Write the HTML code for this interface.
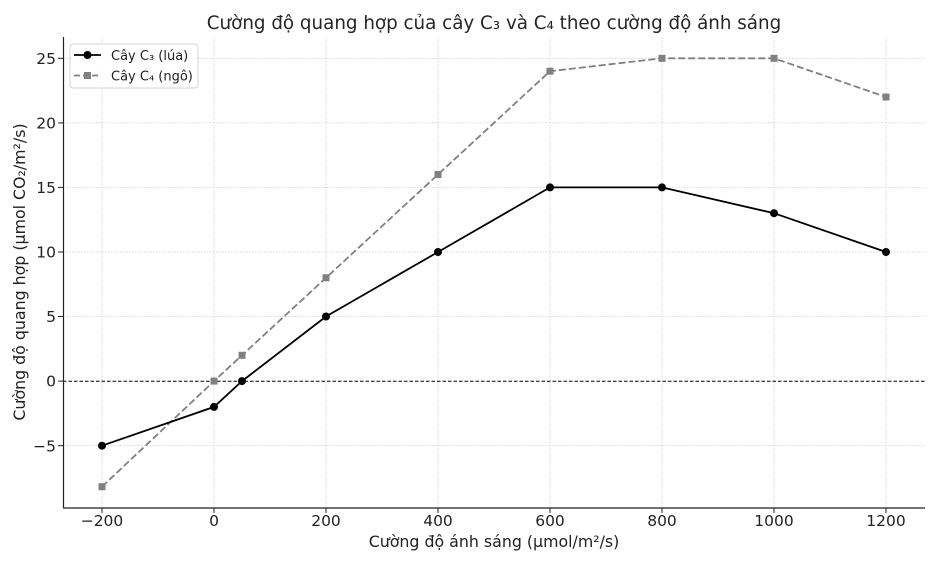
<!DOCTYPE html>
<html><head><meta charset="utf-8"><style>
html,body{margin:0;padding:0;background:#fff;}
svg{display:block;font-family:"DejaVu Sans","Liberation Sans",sans-serif;}
</style></head><body>
<svg width="939" height="564" viewBox="0 0 939 564" xmlns="http://www.w3.org/2000/svg">
<rect width="939" height="564" fill="#fff"/>
<!-- grid -->
<g stroke="#cfcfcf" stroke-width="0.8" stroke-dasharray="1.5,1.5">
<line x1="102" y1="37" x2="102" y2="508"/>
<line x1="214" y1="37" x2="214" y2="508"/>
<line x1="326" y1="37" x2="326" y2="508"/>
<line x1="438" y1="37" x2="438" y2="508"/>
<line x1="550" y1="37" x2="550" y2="508"/>
<line x1="662" y1="37" x2="662" y2="508"/>
<line x1="774" y1="37" x2="774" y2="508"/>
<line x1="886" y1="37" x2="886" y2="508"/>
<line x1="63" y1="445.7" x2="925" y2="445.7"/>
<line x1="63" y1="316.5" x2="925" y2="316.5"/>
<line x1="63" y1="252" x2="925" y2="252"/>
<line x1="63" y1="187.4" x2="925" y2="187.4"/>
<line x1="63" y1="122.9" x2="925" y2="122.9"/>
<line x1="63" y1="58.3" x2="925" y2="58.3"/>
</g>
<!-- zero line -->
<line x1="63" y1="381.3" x2="925" y2="381.3" stroke="#000" stroke-width="1" stroke-dasharray="3.5,2"/>
<!-- C4 series -->
<polyline fill="none" stroke="#808080" stroke-width="1.8" stroke-dasharray="7,3" points="102,486.7 214,381.1 242,355.3 326,277.8 438,174.5 550,71.2 662,58.3 774,58.3 886,97"/>
<g fill="#808080">
<rect x="98.5" y="483.2" width="7" height="7"/>
<rect x="210.5" y="377.6" width="7" height="7"/>
<rect x="238.5" y="351.8" width="7" height="7"/>
<rect x="322.5" y="274.3" width="7" height="7"/>
<rect x="434.5" y="171" width="7" height="7"/>
<rect x="546.5" y="67.7" width="7" height="7"/>
<rect x="658.5" y="54.8" width="7" height="7"/>
<rect x="770.5" y="54.8" width="7" height="7"/>
<rect x="882.5" y="93.5" width="7" height="7"/>
</g>
<!-- C3 series -->
<polyline fill="none" stroke="#000" stroke-width="1.8" points="102,445.7 214,406.9 242,381.1 326,316.5 438,252 550,187.4 662,187.4 774,213.2 886,252"/>
<g fill="#000">
<circle cx="102" cy="445.7" r="4"/>
<circle cx="214" cy="406.9" r="4"/>
<circle cx="242" cy="381.1" r="4"/>
<circle cx="326" cy="316.5" r="4"/>
<circle cx="438" cy="252" r="4"/>
<circle cx="550" cy="187.4" r="4"/>
<circle cx="662" cy="187.4" r="4"/>
<circle cx="774" cy="213.2" r="4"/>
<circle cx="886" cy="252" r="4"/>
</g>
<!-- spines -->
<g stroke="#222" stroke-width="1.2">
<line x1="63.5" y1="37" x2="63.5" y2="508"/>
<line x1="63" y1="508" x2="925" y2="508"/>
</g>
<!-- ticks -->
<g stroke="#222" stroke-width="1">
<line x1="102" y1="508" x2="102" y2="513"/>
<line x1="214" y1="508" x2="214" y2="513"/>
<line x1="326" y1="508" x2="326" y2="513"/>
<line x1="438" y1="508" x2="438" y2="513"/>
<line x1="550" y1="508" x2="550" y2="513"/>
<line x1="662" y1="508" x2="662" y2="513"/>
<line x1="774" y1="508" x2="774" y2="513"/>
<line x1="886" y1="508" x2="886" y2="513"/>
<line x1="58" y1="445.7" x2="63" y2="445.7"/>
<line x1="58" y1="381.1" x2="63" y2="381.1"/>
<line x1="58" y1="316.5" x2="63" y2="316.5"/>
<line x1="58" y1="252" x2="63" y2="252"/>
<line x1="58" y1="187.4" x2="63" y2="187.4"/>
<line x1="58" y1="122.9" x2="63" y2="122.9"/>
<line x1="58" y1="58.3" x2="63" y2="58.3"/>
</g>
<!-- tick labels -->
<g font-size="15.5" fill="#222" text-anchor="middle">
<text x="102" y="526">−200</text>
<text x="214" y="526">0</text>
<text x="326" y="526">200</text>
<text x="438" y="526">400</text>
<text x="550" y="526">600</text>
<text x="662" y="526">800</text>
<text x="774" y="526">1000</text>
<text x="886" y="526">1200</text>
</g>
<g font-size="15.5" fill="#222" text-anchor="end">
<text x="56" y="451.3">−5</text>
<text x="56" y="386.7">0</text>
<text x="56" y="322.1">5</text>
<text x="56" y="257.6">10</text>
<text x="56" y="193">15</text>
<text x="56" y="128.5">20</text>
<text x="56" y="63.9">25</text>
</g>
<!-- axis labels -->
<text x="494" y="547" font-size="15.8" fill="#222" text-anchor="middle">Cường độ ánh sáng (µmol/m²/s)</text>
<text transform="translate(25,272) rotate(-90)" font-size="15.8" fill="#222" text-anchor="middle">Cường độ quang hợp (µmol CO₂/m²/s)</text>
<!-- title -->
<text x="494" y="29" font-size="18.3" fill="#262626" text-anchor="middle">Cường độ quang hợp của cây C₃ và C₄ theo cường độ ánh sáng</text>
<!-- legend -->
<rect x="70" y="44" width="128" height="44" rx="3" fill="#fff" fill-opacity="0.85" stroke="#d5d5d5" stroke-width="1"/>
<line x1="74" y1="55" x2="101" y2="55" stroke="#000" stroke-width="1.8"/>
<circle cx="87.5" cy="55" r="4" fill="#000"/>
<line x1="74" y1="75.5" x2="101" y2="75.5" stroke="#808080" stroke-width="1.8" stroke-dasharray="6,3"/>
<rect x="84" y="72" width="7" height="7" fill="#808080"/>
<g font-size="13" fill="#222">
<text x="111" y="59.8">Cây C₃ (lúa)</text>
<text x="111" y="80.3">Cây C₄ (ngô)</text>
</g>
</svg>
</body></html>
